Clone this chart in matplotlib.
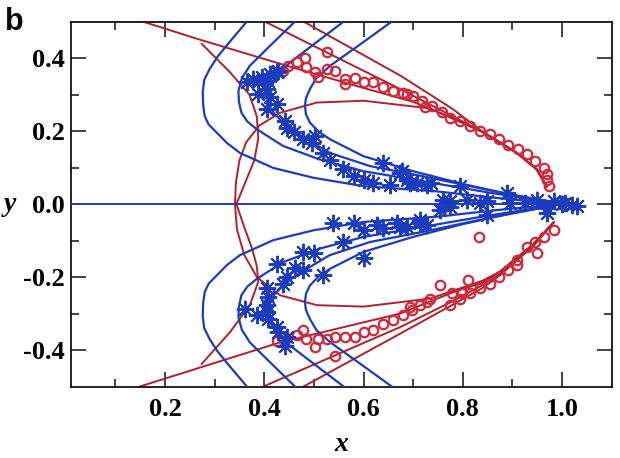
import numpy as np
import matplotlib.pyplot as plt

plt.rcParams['axes.unicode_minus'] = False

BLUE = '#1c3cbf'
RED_LINE = '#b3202c'
RED_MARK = '#d2283c'

# theory curves (blue), top end -> tip -> bottom end
blue_a_x = [0.365, 0.324, 0.305, 0.290, 0.279, 0.276, 0.277, 0.280, 0.288, 0.304, 0.325, 0.351, 0.418, 0.499, 0.600, 0.745, 0.880, 1.000,
            0.880, 0.745, 0.600, 0.499, 0.418, 0.351, 0.325, 0.304, 0.288, 0.280, 0.277, 0.276, 0.279, 0.290, 0.305, 0.324, 0.365]
blue_a_y = [0.500, 0.434, 0.402, 0.370, 0.340, 0.306, 0.270, 0.241, 0.218, 0.196, 0.167, 0.140, 0.099, 0.072, 0.049, 0.035, 0.015, 0.000,
            -0.015, -0.035, -0.049, -0.072, -0.099, -0.140, -0.167, -0.196, -0.218, -0.241, -0.270, -0.306, -0.340, -0.370, -0.402, -0.434, -0.500]
blue_b_x = [0.462, 0.412, 0.371, 0.355, 0.348, 0.349, 0.354, 0.366, 0.385, 0.438, 0.512, 0.600, 0.700, 0.850, 1.000,
            0.850, 0.700, 0.600, 0.512, 0.438, 0.385, 0.366, 0.354, 0.349, 0.348, 0.355, 0.371, 0.412, 0.462]
blue_b_y = [0.500, 0.434, 0.379, 0.345, 0.310, 0.280, 0.250, 0.226, 0.205, 0.159, 0.122, 0.090, 0.067, 0.032, 0.000,
            -0.032, -0.067, -0.090, -0.122, -0.159, -0.205, -0.226, -0.250, -0.280, -0.310, -0.345, -0.379, -0.434, -0.500]
blue_c_x = [0.560, 0.506, 0.452, 0.425, 0.412, 0.406, 0.410, 0.425, 0.442, 0.463, 0.532, 0.613, 0.720, 0.860, 1.000,
            0.860, 0.720, 0.613, 0.532, 0.463, 0.442, 0.425, 0.410, 0.406, 0.412, 0.425, 0.452, 0.506, 0.560]
blue_c_y = [0.500, 0.444, 0.388, 0.355, 0.324, 0.290, 0.265, 0.241, 0.218, 0.196, 0.140, 0.104, 0.076, 0.036, 0.000,
            -0.036, -0.076, -0.104, -0.140, -0.196, -0.218, -0.241, -0.265, -0.290, -0.324, -0.355, -0.388, -0.444, -0.500]
blue_d_x = [0.657, 0.600, 0.533, 0.505, 0.492, 0.484, 0.482, 0.484, 0.492, 0.510, 0.533, 0.600, 0.700, 0.800, 0.900, 1.000,
            0.900, 0.800, 0.700, 0.600, 0.533, 0.510, 0.492, 0.484, 0.482, 0.484, 0.492, 0.505, 0.533, 0.600, 0.657]
blue_d_y = [0.500, 0.444, 0.379, 0.345, 0.315, 0.290, 0.269, 0.246, 0.223, 0.198, 0.177, 0.131, 0.090, 0.055, 0.025, 0.000,
            -0.025, -0.055, -0.090, -0.131, -0.177, -0.198, -0.223, -0.246, -0.269, -0.290, -0.315, -0.345, -0.379, -0.444, -0.500]

# red curves
red_s1_x = [0.274, 0.331, 0.370, 0.385, 0.388, 0.380, 0.362, 0.344, 0.358, 0.375, 0.385, 0.388, 0.371, 0.331, 0.274]
red_s1_y = [0.439, 0.361, 0.300, 0.240, 0.180, 0.120, 0.060, 0.000, -0.057, -0.120, -0.170, -0.213, -0.277, -0.351, -0.438]
red_s2_x = [0.969, 0.949, 0.909, 0.842, 0.734, 0.600, 0.506, 0.432, 0.390, 0.364, 0.350, 0.343, 0.341,
            0.345, 0.360, 0.385, 0.432, 0.506, 0.600, 0.734, 0.840, 0.875, 0.942, 0.983]
red_s2_y = [0.048, 0.095, 0.140, 0.196, 0.262, 0.283, 0.278, 0.250, 0.215, 0.170, 0.120, 0.060, 0.000,
            -0.070, -0.140, -0.200, -0.250, -0.277, -0.281, -0.259, -0.210, -0.185, -0.110, -0.050]
red_t1_x = [0.155, 0.264, 0.445, 0.600, 0.700, 0.780, 0.842, 0.909, 0.949, 0.969]
red_t1_y = [0.500, 0.453, 0.379, 0.318, 0.280, 0.235, 0.196, 0.140, 0.095, 0.048]
red_t2_x = [0.401, 0.674, 0.780, 0.842, 0.909, 0.949, 0.969]
red_t2_y = [0.500, 0.315, 0.240, 0.196, 0.140, 0.095, 0.048]
red_t3_x = [0.479, 0.674, 0.780, 0.842, 0.909, 0.949, 0.969]
red_t3_y = [0.500, 0.352, 0.260, 0.196, 0.140, 0.095, 0.048]
red_b1_x = [0.149, 0.432, 0.674, 0.774, 0.840, 0.875, 0.942, 0.983]
red_b1_y = [-0.500, -0.379, -0.300, -0.245, -0.215, -0.185, -0.110, -0.050]
red_b2_x = [0.398, 0.674, 0.774, 0.840, 0.875, 0.942, 0.983]
red_b2_y = [-0.500, -0.337, -0.270, -0.222, -0.190, -0.115, -0.050]
red_b3_x = [0.479, 0.674, 0.774, 0.840, 0.875, 0.942, 0.983]
red_b3_y = [-0.500, -0.355, -0.280, -0.230, -0.195, -0.115, -0.050]

# red circles (data)
circ_x = [0.438, 0.448, 0.465, 0.482, 0.485, 0.502, 0.526, 0.509, 0.526, 0.543, 0.563, 0.563, 0.583, 0.600,
          0.620, 0.640, 0.660, 0.680, 0.700, 0.717, 0.724, 0.687, 0.738, 0.758, 0.774, 0.795, 0.815, 0.835,
          0.855, 0.872, 0.892, 0.912, 0.929, 0.946, 0.963, 0.969, 0.969, 0.973,
          0.425, 0.465, 0.479, 0.485, 0.502, 0.509, 0.526, 0.543, 0.543, 0.563, 0.583, 0.600, 0.620, 0.640,
          0.660, 0.680, 0.697, 0.714, 0.727, 0.694, 0.734, 0.754, 0.774, 0.778, 0.795, 0.798, 0.811, 0.815,
          0.835, 0.855, 0.872, 0.892, 0.909, 0.909, 0.929, 0.946, 0.949, 0.963, 0.983, 0.832]
circ_y = [0.365, 0.379, 0.388, 0.399, 0.375, 0.361, 0.416, 0.347, 0.370, 0.365, 0.342, 0.329, 0.345, 0.333,
          0.333, 0.320, 0.310, 0.304, 0.295, 0.283, 0.267, 0.301, 0.269, 0.251, 0.237, 0.228, 0.214, 0.200,
          0.191, 0.177, 0.163, 0.150, 0.136, 0.117, 0.099, 0.081, 0.067, 0.049,
          -0.374, -0.360, -0.346, -0.369, -0.392, -0.369, -0.369, -0.415, -0.365, -0.365, -0.365, -0.351, -0.346, -0.328,
          -0.319, -0.305, -0.291, -0.277, -0.268, -0.282, -0.259, -0.222, -0.277, -0.245, -0.259, -0.245, -0.209, -0.245,
          -0.231, -0.218, -0.199, -0.181, -0.167, -0.153, -0.117, -0.103, -0.135, -0.089, -0.071, -0.089]

# blue asterisks (data)
star_x = [0.365, 0.378, 0.388, 0.395, 0.408, 0.412, 0.425, 0.428, 0.388, 0.405, 0.412, 0.425, 0.405, 0.442,
          0.445, 0.459, 0.479, 0.502, 0.496, 0.519, 0.533, 0.559, 0.580, 0.600, 0.620, 0.640, 0.653, 0.677,
          0.687, 0.707, 0.727, 0.674, 0.694, 0.735, 0.761, 0.774, 0.795, 0.808, 0.835, 0.848, 0.889, 0.895,
          0.926, 0.949, 0.969, 0.983, 1.006, 1.030,
          0.539, 0.580, 0.600, 0.627, 0.640, 0.667, 0.687, 0.714, 0.727, 0.559, 0.600, 0.479, 0.500, 0.425,
          0.462, 0.479, 0.445, 0.519, 0.438, 0.405, 0.408, 0.405, 0.361, 0.405, 0.385, 0.408, 0.425, 0.428,
          0.445, 0.442, 0.674, 0.714, 0.754, 0.774, 0.848, 0.969, 1.000, 1.020]
star_y = [0.333, 0.342, 0.333, 0.347, 0.338, 0.356, 0.361, 0.365, 0.301, 0.315, 0.292, 0.274, 0.260, 0.228,
          0.209, 0.196, 0.177, 0.186, 0.168, 0.141, 0.122, 0.095, 0.076, 0.067, 0.058, 0.113, 0.053, 0.090,
          0.067, 0.058, 0.053, 0.085, 0.058, 0.058, 0.012, 0.007, 0.049, 0.012, 0.003, 0.007, 0.030, 0.003,
          0.003, 0.012, -0.011, 0.007, 0.003, -0.006,
          -0.052, -0.052, -0.071, -0.057, -0.066, -0.052, -0.062, -0.052, -0.057, -0.103, -0.149, -0.131, -0.135, -0.163,
          -0.176, -0.181, -0.199, -0.195, -0.218, -0.231, -0.255, -0.277, -0.287, -0.296, -0.305, -0.314, -0.337, -0.351,
          -0.365, -0.388, -0.062, -0.044, -0.016, -0.007, -0.030, -0.025, 0.000, -0.004]

fig = plt.figure(figsize=(6.2, 4.58), dpi=100)
ax = fig.add_axes([0.114, 0.156, 0.8726, 0.797])

lw = 1.4
for xs, ys in [(red_t1_x, red_t1_y), (red_t2_x, red_t2_y), (red_t3_x, red_t3_y),
               (red_b1_x, red_b1_y), (red_b2_x, red_b2_y), (red_b3_x, red_b3_y),
               (red_s1_x, red_s1_y), (red_s2_x, red_s2_y)]:
    ax.plot(xs, ys, color=RED_LINE, lw=lw, zorder=2)

ax.plot([0.01, 1.0], [0, 0], color=BLUE, lw=lw, zorder=3)
for xs, ys in [(blue_a_x, blue_a_y), (blue_b_x, blue_b_y), (blue_c_x, blue_c_y), (blue_d_x, blue_d_y)]:
    ax.plot(xs, ys, color=BLUE, lw=1.6, zorder=3)

ax.plot(circ_x, circ_y, 'o', ms=6.8, mfc='none', mec=RED_MARK, mew=1.6, zorder=4)
ax.plot(star_x, star_y, marker=(8, 2, 0), ls='none', ms=12.5, mec=BLUE, mew=1.4, zorder=5)

ax.set_xlim(0.01, 1.10)
ax.set_ylim(-0.5, 0.5)
ax.set_xticks([0.2, 0.4, 0.6, 0.8, 1.0])
ax.set_xticklabels(['0.2', '0.4', '0.6', '0.8', '1.0'])
ax.set_xticks([0.1, 0.3, 0.5, 0.7, 0.9], minor=True)
ax.set_yticks([-0.4, -0.2, 0.0, 0.2, 0.4])
ax.set_yticklabels(['-0.4', '-0.2', '0.0', '0.2', '0.4'])
ax.set_yticks([-0.3, -0.1, 0.1, 0.3], minor=True)
ax.tick_params(which='both', direction='in', top=True, right=True, width=1.2, color='#222222')
ax.tick_params(which='major', length=11)
ax.tick_params(which='minor', length=6)
ax.tick_params(axis='x', pad=8)
ax.tick_params(axis='y', pad=4)
for lab in ax.get_xticklabels() + ax.get_yticklabels():
    lab.set_fontfamily('Liberation Serif')
    lab.set_fontweight('bold')
    lab.set_fontsize(19)
for s in ax.spines.values():
    s.set_linewidth(1.3)
    s.set_color('#111111')

ax.set_xlabel('x', fontfamily='Liberation Serif', fontstyle='italic', fontweight='bold', fontsize=20)
ax.xaxis.set_label_coords(0.5, -0.16)
ax.xaxis.label.set_va('center')
ax.set_ylabel('y', fontfamily='Liberation Serif', fontstyle='italic', fontweight='bold', fontsize=20, rotation=0)
ax.yaxis.set_label_coords(-0.112, 0.5)
ax.yaxis.label.set_va('center')

fig.text(0.008, 0.985, 'b', fontfamily='Liberation Sans', fontweight='bold', fontsize=22, va='top', ha='left')

fig.savefig('out.png', dpi=100)
